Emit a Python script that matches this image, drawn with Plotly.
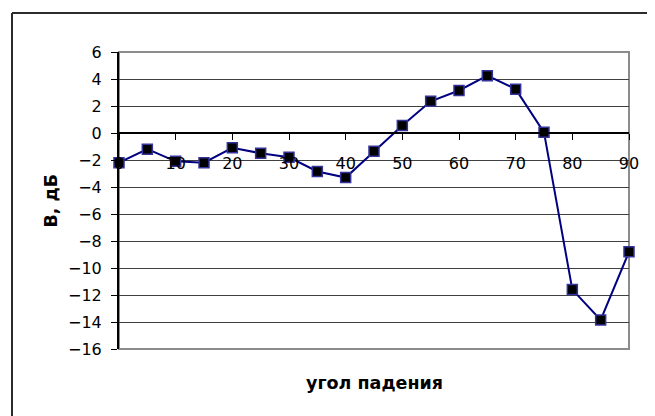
import plotly.graph_objects as go

angles = [0, 5, 10, 15, 20, 25, 30, 35, 40, 45, 50, 55, 60, 65, 70, 75, 80, 85, 90]
b_db = [-2.2, -1.2, -2.1, -2.2, -1.1, -1.5, -1.8, -2.85, -3.3, -1.35, 0.55, 2.35, 3.15, 4.25, 3.25, 0.05, -11.6, -13.85, -8.8]
y_ticks = [-16, -14, -12, -10, -8, -6, -4, -2, 0, 2, 4, 6]
x_ticks = [0, 10, 20, 30, 40, 50, 60, 70, 80, 90]

# page body has an 8px margin, compensate
OFF = 8
W, H = 655 - OFF, 416 - OFF
L, R, T, B = 119 - OFF, 629 - OFF, 52 - OFF, 349 - OFF
pw, ph = R - L, B - T
FONT = "DejaVu Sans, Liberation Sans, Arial, sans-serif"

fig = go.Figure()
fig.add_trace(go.Scatter(
    x=angles, y=b_db, mode="lines+markers",
    line=dict(color="#000080", width=2),
    marker=dict(symbol="square", size=10, color="black",
                line=dict(color="#33339a", width=1.5)),
    cliponaxis=False, showlegend=False,
))

ymin, ymax = -16, 6
zero_pos = (0 - ymin) / (ymax - ymin)

fig.update_layout(
    width=W, height=H,
    margin=dict(l=L, r=W - R, t=T, b=H - B, autoexpand=False),
    paper_bgcolor="white", plot_bgcolor="white",
    font=dict(family=FONT, size=16, color="black"),
    xaxis=dict(
        range=[0, 90], tickmode="array", tickvals=x_ticks,
        ticktext=[str(v) for v in x_ticks],
        anchor="free", position=zero_pos,
        showgrid=False, zeroline=False,
        showline=True, linecolor="black", linewidth=1.5,
        ticks="outside", ticklen=6, tickcolor="black", tickwidth=1,
        ticklabelstandoff=10,
        tickfont=dict(size=16),
    ),
    yaxis=dict(
        range=[ymin, ymax], tickmode="array", tickvals=y_ticks,
        showgrid=True, gridcolor="#404040", gridwidth=1,
        zeroline=False,
        showline=True, linecolor="black", linewidth=2,
        ticks="outside", ticklen=6, tickcolor="black", tickwidth=1,
        ticklabelstandoff=6,
        tickfont=dict(size=16),
    ),
    shapes=[
        dict(type="rect", xref="paper", yref="paper", x0=0, x1=1, y0=0, y1=1,
             line=dict(color="#8c8c8c", width=2), layer="below"),
        dict(type="line", xref="paper", yref="paper",
             x0=(12 - OFF - L) / pw, x1=(W + 5 - L) / pw,
             y0=(B - (13 - OFF)) / ph, y1=(B - (13 - OFF)) / ph,
             line=dict(color="#2b2b2b", width=2)),
        dict(type="line", xref="paper", yref="paper",
             x0=(12 - OFF - L) / pw, x1=(12 - OFF - L) / pw,
             y0=(B - (13 - OFF)) / ph, y1=(B - H - 5) / ph,
             line=dict(color="#2b2b2b", width=2)),
    ],
    annotations=[
        dict(text="<b>угол падения</b>", xref="paper", yref="paper",
             x=0.5, y=(B - (383 - OFF)) / ph, showarrow=False,
             font=dict(size=17.5), xanchor="center", yanchor="middle"),
        dict(text="<b>B, дБ</b>", xref="paper", yref="paper",
             x=(50 - OFF - L) / pw, y=0.5, textangle=-90, showarrow=False,
             font=dict(size=17.5), xanchor="center", yanchor="middle"),
    ],
)

fig.write_html("out.html")
